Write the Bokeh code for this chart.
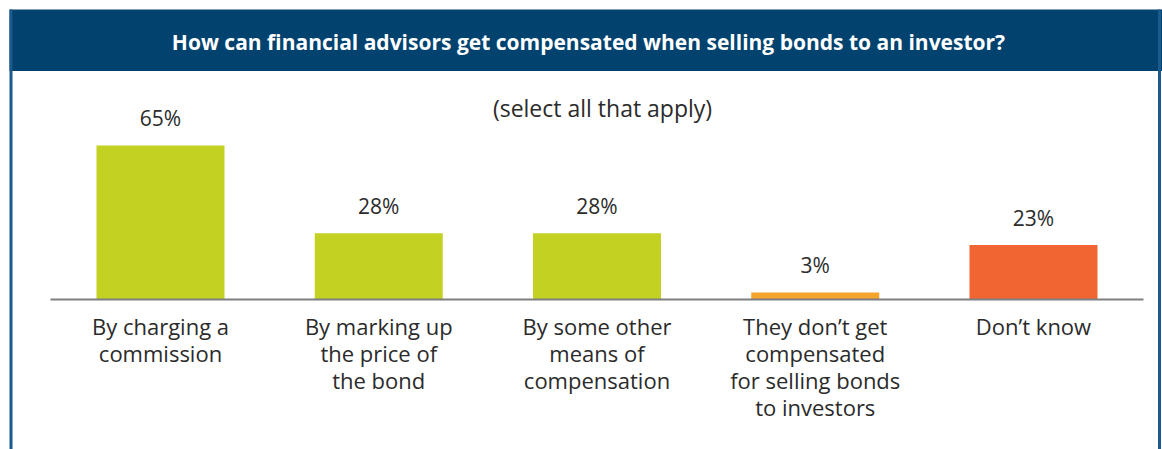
from bokeh.plotting import figure
from bokeh.models import ColumnDataSource, BoxAnnotation, Label, Range1d
from bokeh.core.properties import value
from bokeh.embed import file_html
from bokeh.resources import INLINE

# ---- data ----
categories = [
    "By charging a\ncommission",
    "By marking up\nthe price of\nthe bond",
    "By some other\nmeans of\ncompensation",
    "They don\u2019t get\ncompensated\nfor selling bonds\nto investors",
    "Don\u2019t know",
]
values = [65, 28, 28, 3, 23]
value_labels = ["65%", "28%", "28%", "3%", "23%"]
colors = ["#C3D122", "#C3D122", "#C3D122", "#F5A42E", "#F06532"]

title_text = "How can financial advisors get compensated when selling bonds to an investor?"
subtitle_text = "(select all that apply)"

# ---- layout helpers (reference px -> data) ----
OFF = 0
W, H = 1162, 449
SX = 218.25          # px per category
X_LEFT_PX = 160      # px of category 0 from left of figure
SY = 2.37            # px per percent
BASE_PX = 299        # baseline px from top of figure

def xd(px):
    return (px - OFF - X_LEFT_PX) / SX

def yd(py):
    return (BASE_PX - (py - OFF)) / SY

p = figure(width=W, height=H, output_backend="svg", toolbar_location=None,
           x_range=Range1d(-X_LEFT_PX / SX, (W - X_LEFT_PX) / SX),
           y_range=Range1d(-(H - BASE_PX) / SY, BASE_PX / SY),
           min_border=0, min_border_left=0, min_border_right=0,
           min_border_top=0, min_border_bottom=0)
p.axis.visible = False
p.grid.visible = False
p.outline_line_color = None
p.background_fill_color = "white"
p.border_fill_color = "white"

# header band and side borders
p.add_layout(BoxAnnotation(bottom=yd(70.5), top=yd(9), left=xd(9),
                           fill_color="#02426F", fill_alpha=1,
                           line_color=None, level="underlay"))
p.add_layout(BoxAnnotation(left=xd(9), right=xd(12), top=yd(9), fill_color="#1B5A8C",
                           fill_alpha=1, line_color=None, level="underlay"))
p.add_layout(BoxAnnotation(left=xd(1157.5), right=xd(1160.5), top=yd(9), fill_color="#1B5A8C",
                           fill_alpha=1, line_color=None, level="underlay"))

xs = list(range(len(values)))
src = ColumnDataSource(dict(x=xs, top=values, color=colors, lab=value_labels, cat=categories))

p.vbar(x="x", top="top", bottom=0, width=128 / SX, fill_color="color",
       line_color=None, source=src)

# baseline
p.line(x=[xd(50), xd(1143)], y=[0, 0], line_color="#7F7F82", line_width=2)

font = value("Open Sans")
p.text(x="x", y="top", text="lab", source=src, text_align="center",
       text_baseline="middle", y_offset=-27, text_font=font,
       text_font_size="21px", text_color="#2B2B2B")

p.text(x="x", y=0, text="cat", source=src, text_align="center",
       text_baseline="top", y_offset=11, text_font=font,
       text_font_size="22px", text_color="#2B2B2B", text_line_height=0.9)

p.add_layout(Label(x=xd(588), y=yd(41), text=title_text, text_align="center",
                   text_baseline="middle", text_font="Open Sans",
                   text_font_style="bold", text_font_size="21px",
                   text_color="white"))
p.add_layout(Label(x=xd(602), y=yd(107), text=subtitle_text, text_align="center",
                   text_baseline="middle", text_font="Open Sans",
                   text_font_size="23px", text_color="#2B2B2B"))

open("out.html", "w").write(file_html(p, INLINE))
